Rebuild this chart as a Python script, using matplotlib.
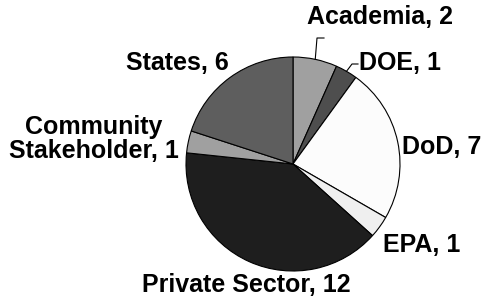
import numpy as np
import matplotlib
matplotlib.use("Agg")
from matplotlib import pyplot as plt

plt.rcParams['font.family'] = ['Liberation Sans', 'DejaVu Sans']

labels = ['Academia', 'DOE', 'DoD', 'EPA', 'Private Sector',
          'Community\nStakeholder', 'States']
counts = [2, 1, 7, 1, 12, 1, 6]
colors = ['#a0a0a0', '#4e4e4e', '#fcfcfc', '#efefef', '#1e1e1e',
          '#a0a0a0', '#5e5e5e']

# label centres in pixel coords (x from left, y from top)
label_pos = [(380, 17), (400, 63), (442, 147), (422, 245), (246, 285),
             (94, 139), (177, 63)]

W, H = 486, 303
fig = plt.figure(figsize=(W / 100, H / 100), dpi=100)
ax = fig.add_axes([0, 0, 1, 1])

cx, cy, r = 293, H - 164, 107
wedges, _ = ax.pie(counts, colors=colors, startangle=90, counterclock=False,
                   center=(cx, cy), radius=r, frame=True,
                   wedgeprops=dict(edgecolor='black', linewidth=0.8))
ax.set_xlim(0, W)
ax.set_ylim(0, H)
ax.set_aspect('equal')
ax.axis('off')

for lab, n, (px, py) in zip(labels, counts, label_pos):
    ax.text(px, H - py, f'{lab}, {n}', ha='center', va='center',
            fontsize=18, fontweight='bold', linespacing=1.0)

# leader lines for the two small top slices
def edge_pt(w):
    th = np.deg2rad((w.theta1 + w.theta2) / 2)
    return cx + r * np.cos(th), cy + r * np.sin(th)

x0, y0 = edge_pt(wedges[0])
ax.plot([x0, 317, 324], [y0, H - 38, H - 38], color='black', lw=0.8)
x1, y1 = edge_pt(wedges[1])
ax.plot([x1, 352, 358], [y1, H - 64, H - 64], color='black', lw=0.8)

fig.savefig('out.png', dpi=100)
